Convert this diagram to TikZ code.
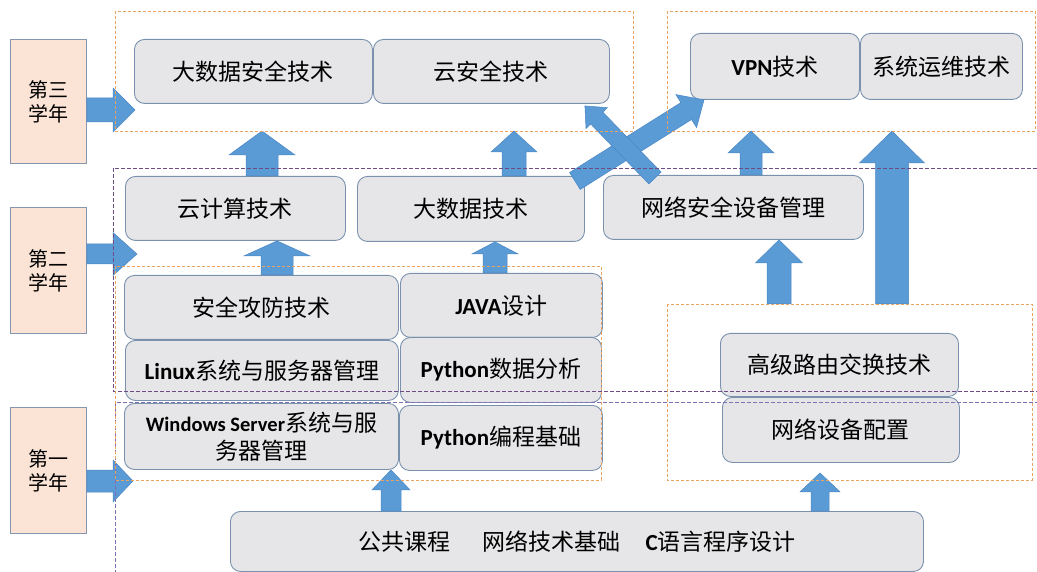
\documentclass[tikz,border=0pt]{standalone}
\usepackage{fontspec}
\setmainfont{Carlito}
\newfontfamily\cjk{Noto Sans CJK SC}
\usetikzlibrary{calc}
\definecolor{boxfill}{HTML}{E6E6E8}
\definecolor{boxline}{HTML}{7A91AD}
\definecolor{yearfill}{HTML}{FBE3D5}
\definecolor{yearline}{HTML}{8496B0}
\definecolor{arrfill}{HTML}{5B9BD5}
\definecolor{arrline}{HTML}{4A86C5}
\definecolor{dashorange}{HTML}{E9A35E}
\definecolor{dashpurple}{HTML}{6E4C82}
\definecolor{dashblue}{HTML}{7F6FB5}
\newcommand\zh[1]{{\cjk #1}}
\newcommand\en[1]{{\bfseries #1}}
\tikzset{
  course/.style={draw=boxline, fill=boxfill, line width=0.9pt, rounded corners=10pt,
    anchor=north west, inner sep=0pt, align=center, text=black,
    font=\fontsize{23}{28}\selectfont},
  yearbox/.style={draw=yearline, fill=yearfill, line width=0.9pt, anchor=north west,
    inner sep=0pt, align=center, text=black, font=\fontsize{20}{24}\selectfont\cjk},
  arrowstyle/.style={fill=arrfill, draw=arrline, line width=0.5pt},
  grouporange/.style={draw=dashorange, dash pattern=on 3pt off 2pt, line width=0.8pt},
  grouppurple/.style={draw=dashpurple, dash pattern=on 4pt off 2pt, line width=0.8pt},
  groupblue/.style={draw=dashblue, dash pattern=on 4pt off 2pt, line width=0.8pt}
}
\newcommand\course[6]{\node[course, minimum width=#4pt, minimum height=#5pt] (#1) at (#2,#3) {#6};}
\newcommand\yearnode[4]{\node[yearbox, minimum width=76pt, minimum height=#4pt] (#1) at (10,#2) {#3};}
% #2 start, #3 tip, #4 shaft half width, #5 head half width, #6 head length
\newcommand\blockarr[6][]{%
  \path (#2) coordinate (ba1);
  \path (#3) coordinate (ba2);
  \path ($(ba2)!#6!(ba1)$) coordinate (bah);
  \path[arrowstyle,#1] ($(ba1)!#4!90:(ba2)$) -- ($(bah)!#4!90:(ba2)$) -- ($(bah)!#5!90:(ba2)$)
    -- (ba2) -- ($(bah)!#5!-90:(ba2)$) -- ($(bah)!#4!-90:(ba2)$) -- ($(ba1)!#4!-90:(ba2)$) -- cycle;}
\begin{document}
\begin{tikzpicture}[x=1pt,y=-1pt]
\useasboundingbox (0,0) rectangle (1037,572);
\clip (0,0) rectangle (1037,572);
% group frames (corner coordinates)
\coordinate (g3L-nw) at (115,11);  \coordinate (g3L-se) at (633,131);
\coordinate (g3R-nw) at (667,11);  \coordinate (g3R-se) at (1035,131);
\coordinate (g2-nw) at (113,168);  \coordinate (g2-se) at (1045,391);
\coordinate (g1-nw) at (115,402);  \coordinate (g1-se) at (1045,600);
\coordinate (g12L-nw) at (115,266); \coordinate (g12L-se) at (601,480);
\coordinate (g12R-nw) at (667,304); \coordinate (g12R-se) at (1032,480);
% year boxes
\yearnode{y3}{39}{第三\\学年}{124}
\yearnode{y2}{207}{第二\\学年}{126}
\yearnode{y1}{407}{第一\\学年}{126}
% courses
\course{c31}{134}{39}{238}{64}{\zh{大数据安全技术}}
\course{c32}{373}{39}{236}{64}{\zh{云安全技术}}
\course{c33}{690}{33}{169}{66}{\en{VPN}\zh{技术}}
\course{c34}{860}{33}{162}{66}{\zh{系统运维技术}}
\course{c21}{125}{176}{220}{64}{\zh{云计算技术}}
\course{c22}{357}{176}{227}{65}{\zh{大数据技术}}
\course{c23}{603}{175}{260}{64}{\zh{网络安全设备管理}}
\course{c24}{124}{275}{274}{64}{\zh{安全攻防技术}}
\course{c25}{400}{273}{202}{64}{\en{JAVA}\zh{设计}}
\course{c26}{125}{340}{273}{60}{\en{Linux}\zh{系统与服务器管理}}
\course{c27}{400}{337}{201}{65}{\en{Python}\zh{数据分析}}
\course{c28}{720}{333}{238}{63}{\zh{高级路由交换技术}}
\course{c11}{124}{403}{274}{66}{\en{\fontsize{20.5}{28}\selectfont Windows Server}\zh{系统与服}\\[0pt]\zh{务器管理}}
\course{c12}{399}{405}{203}{65}{\en{Python}\zh{编程基础}}
\course{c13}{722}{397}{237}{65}{\zh{网络设备配置}}
\course{base}{230}{511}{693}{60}{\zh{公共课程}\hspace{1.4em}\zh{网络技术基础}\hspace{1.1em}\en{C}\zh{语言程序设计}}
% block arrows
\blockarr{262,0 |- c21.north}{262,0 |- g3L-se}{16pt}{33pt}{24pt}
\blockarr{514,0 |- c22.north}{514,0 |- g3L-se}{12pt}{23pt}{21pt}
\blockarr{277,0 |- c24.north}{277,0 |- c21.south}{16pt}{33pt}{15pt}
\blockarr{495,0 |- c25.north}{495,0 |- c22.south}{12pt}{23pt}{12pt}
\blockarr{779,0 |- g12R-nw}{779,0 |- c23.south}{12pt}{23.5pt}{23pt}
\blockarr{892,0 |- g12R-nw}{892,0 |- g3R-se}{16.5pt}{32.5pt}{32pt}
\blockarr{751,0 |- c23.north}{751,0 |- g3R-se}{11pt}{23pt}{22pt}
\blockarr{391,0 |- base.north}{391,0 |- c11.south}{10pt}{19pt}{20pt}
\blockarr{820,0 |- base.north}{$(820,0 |- c13.south)+(0,10)$}{9pt}{20pt}{19pt}
% diagonal arrows
\blockarr{$(c22.north east)+(-10,5)$}{704,0 |- c33.south}{10pt}{19.5pt}{21pt}
\blockarr{$(c23.north west)+(52,3)$}{$(c32.south east)+(-25,2)$}{8.5pt}{15pt}{17pt}
% year arrows
\blockarr{y3.east |- 0,110}{$(g3L-nw |- 0,110)+(20,0)$}{12pt}{22pt}{22pt}
\blockarr{y2.east |- 0,254}{$(g2-nw |- 0,254)+(24,0)$}{10pt}{21.5pt}{24pt}
\blockarr{y1.east |- 0,481}{$(g1-nw |- 0,481)+(18,0)$}{11pt}{21pt}{20pt}
% dashed group frames
\draw[grouporange] (g3L-nw) rectangle (g3L-se);
\draw[grouporange] (g3R-nw) rectangle (g3R-se);
\draw[grouppurple] (g2-nw) rectangle (g2-se);
\draw[groupblue] (g1-nw) rectangle (g1-se);
\draw[grouporange] (g12L-nw) rectangle (g12L-se);
\draw[grouporange] (g12R-nw) rectangle (g12R-se);
\end{tikzpicture}
\end{document}
